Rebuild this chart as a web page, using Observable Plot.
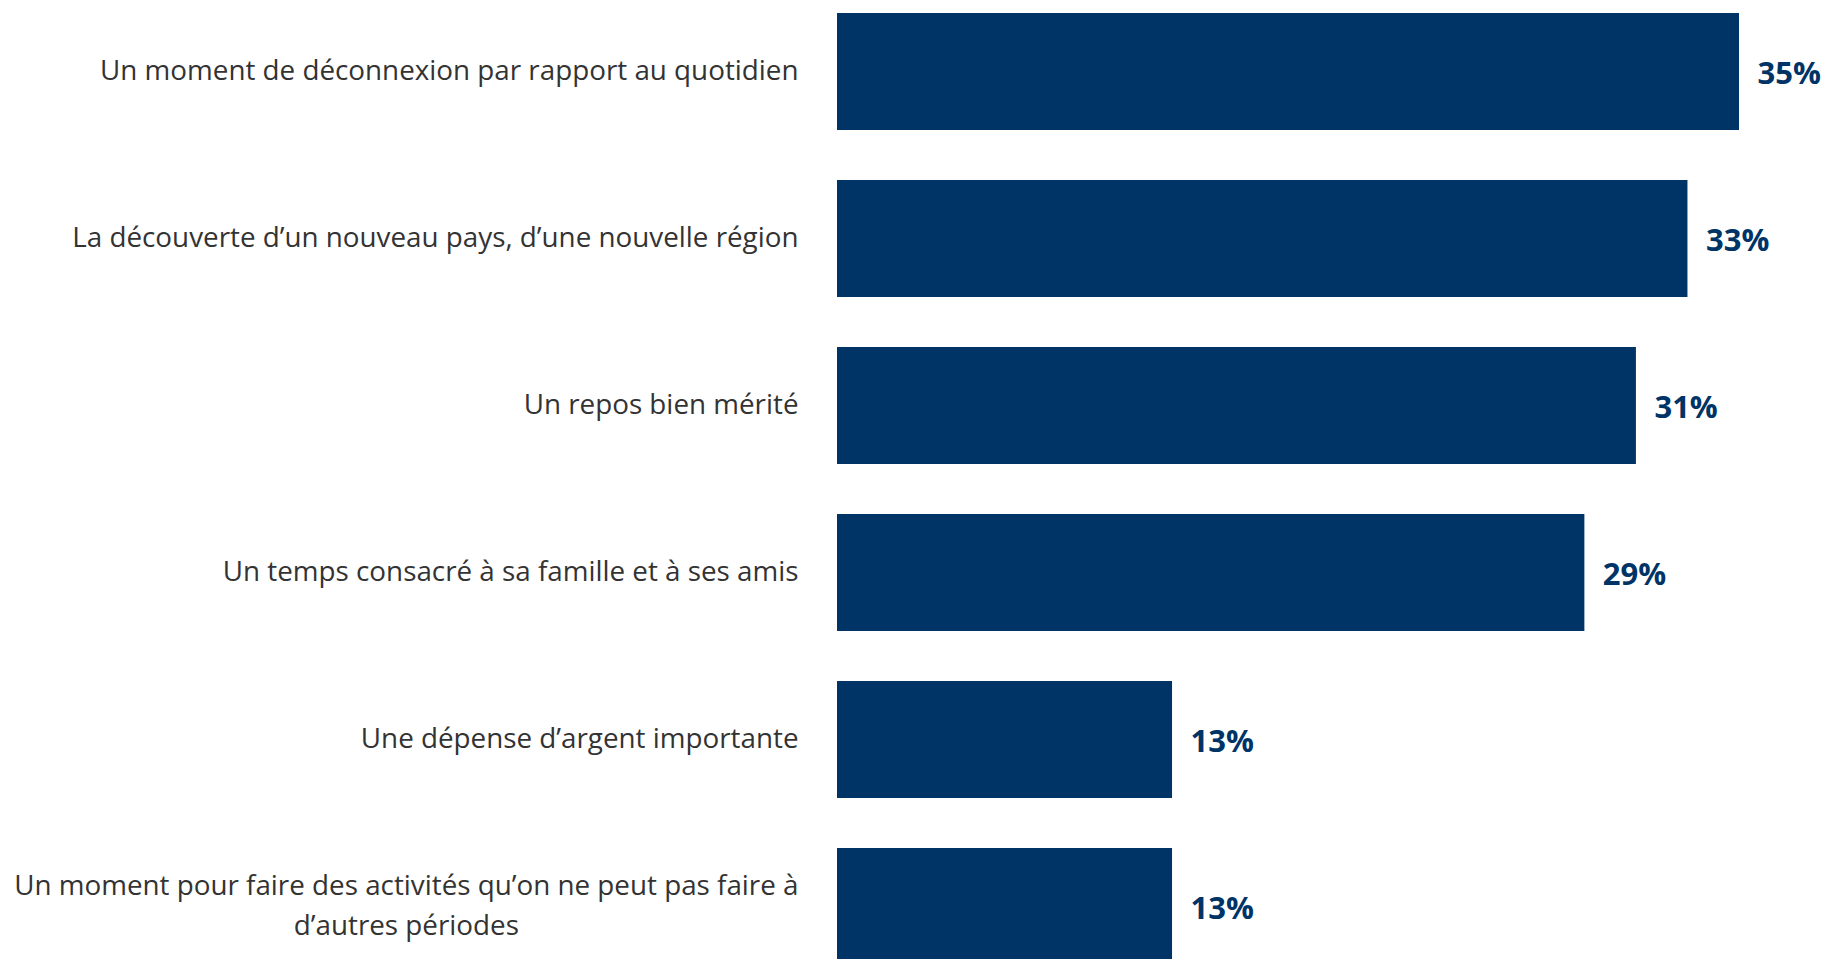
<!DOCTYPE html>
<html>
<head>
<meta charset="utf-8">
<script src="https://cdn.jsdelivr.net/npm/d3@7"></script>
<script src="https://cdn.jsdelivr.net/npm/@observablehq/plot@0.6"></script>
<style>
  html, body { margin: 0; padding: 0; background: #ffffff; overflow: hidden; }
  #chart svg { display: block; }
</style>
</head>
<body>
<div id="chart"></div>
<script>
const categories = [
  "Un moment de déconnexion par rapport au quotidien",
  "La découverte d’un nouveau pays, d’une nouvelle région",
  "Un repos bien mérité",
  "Un temps consacré à sa famille et à ses amis",
  "Une dépense d’argent importante",
  "Un moment pour faire des activités qu’on ne peut pas faire à\nd’autres périodes"
];
const values = [35, 33, 31, 29, 13, 13];
const valueLabels = ["35%", "33%", "31%", "29%", "13%", "13%"];

const data = categories.map((c, i) => ({category: c, value: values[i], label: valueLabels[i]}));

const navy = "#003366";
const labelFont = "Open Sans, sans-serif";
const labelSize = 27.8;

const chart = Plot.plot({
  width: 1827,
  height: 959,
  marginTop: 0, marginBottom: 0, marginLeft: 0, marginRight: 0,
  style: {background: "#ffffff", overflow: "visible"},
  x: {domain: [0, 35], range: [837, 1739], axis: null},
  y: {domain: categories, range: [11.7, 966.5], paddingInner: 0.3, paddingOuter: 0, axis: null},
  marks: [
    Plot.barX(data, {x: "value", y: "category", fill: navy}),
    Plot.text(data, {
      x: 0, y: "category", text: "category",
      textAnchor: "end", dx: -39, dy: -4.5,
      fontFamily: labelFont, fontSize: labelSize, fill: "#333333",
      lineHeight: 39.6 / labelSize, lineAnchor: "middle"
    }),
    Plot.text(data, {
      x: "value", y: "category", text: "label",
      textAnchor: "start", dx: 18, dy: 2,
      fontFamily: labelFont, fontSize: 31, fontWeight: "bold", fill: navy
    })
  ]
});
document.getElementById("chart").appendChild(chart);

// center multi-line category labels line by line (right-aligned block, centered lines)
chart.querySelectorAll("text").forEach(t => {
  const spans = t.querySelectorAll("tspan");
  if (spans.length > 1) {
    const widths = Array.from(spans, s => s.getComputedTextLength());
    const W = Math.max(...widths);
    spans.forEach((s, i) => {
      s.setAttribute("x", String(-(W - widths[i]) / 2));
    });
  }
});
</script>
</body>
</html>
